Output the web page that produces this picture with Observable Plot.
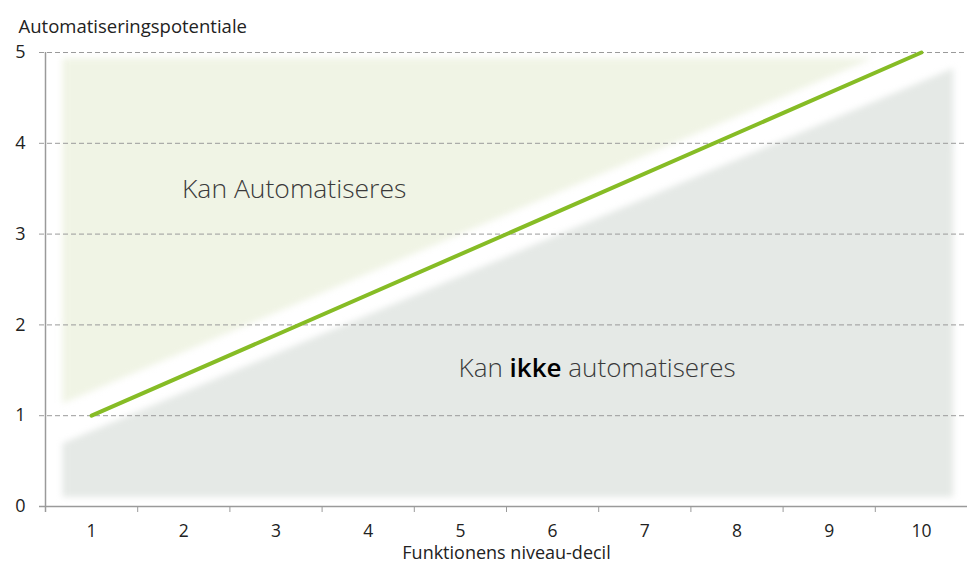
<!DOCTYPE html>
<html>
<head>
<meta charset="utf-8">
<script src="https://cdn.jsdelivr.net/npm/d3@7"></script>
<script src="https://cdn.jsdelivr.net/npm/@observablehq/plot@0.6"></script>
<style>
  html, body { margin: 0; padding: 0; background: #fff; }
  #chart svg { display: block; font-family: "Open Sans", sans-serif; }
</style>
</head>
<body>
<div id="chart"></div>
<script>
// ---- data ----
const deciles = [1, 2, 3, 4, 5, 6, 7, 8, 9, 10];
const minorTicks = [1.5, 2.5, 3.5, 4.5, 5.5, 6.5, 7.5, 8.5, 9.5];
const yTicks = [0, 1, 2, 3, 4, 5];
const gridValues = [1, 2, 3, 4, 5];

const potentialX = [1, 10];
const potentialY = [1, 5];

const greenRegionX = [0.69, 9.48];
const greenLow = [1.13, 4.93];
const greenHigh = [4.93, 4.93];

const grayRegionX = [0.69, 10.35];
const grayLow = [0.1, 0.1];
const grayHigh = [0.69, 4.82];

const yLabel = "Automatiseringspotentiale";
const xLabel = "Funktionens niveau-decil";
const upperText = "Kan Automatiseres";
const lowerText = "Kan ikke automatiseres";

const upperPos = {x: 1.98, y: 3.49};
const lowerPos = {x: 4.98, y: 1.52};

// ---- build tables ----
const line = potentialX.map((x, i) => ({x, y: potentialY[i]}));
const green = greenRegionX.map((x, i) => ({x, y1: greenLow[i], y2: greenHigh[i]}));
const gray = grayRegionX.map((x, i) => ({x, y1: grayLow[i], y2: grayHigh[i]}));

const chart = Plot.plot({
  width: 967,
  height: 565,
  marginTop: 52,
  marginBottom: 59,
  marginLeft: 45,
  marginRight: 0,
  style: {fontFamily: "Open Sans, sans-serif", color: "#222", background: "#fff"},
  x: {domain: [0.5, 10.5], axis: null},
  y: {domain: [0, 5], axis: null},
  marks: [
    Plot.areaY(green, {x: "x", y1: "y1", y2: "y2", fill: "#f0f4e5"}),
    Plot.areaY(gray, {x: "x", y1: "y1", y2: "y2", fill: "#e5e9e6"}),
    Plot.ruleY(gridValues, {stroke: "#9a9a9a", strokeDasharray: "5,3", strokeWidth: 1, insetLeft: -6}),
    Plot.ruleY([0], {stroke: "#9a9a9a", strokeWidth: 1.5, insetLeft: -6}),
    Plot.ruleX([0.5], {stroke: "#9a9a9a", strokeWidth: 1.5, insetBottom: -6}),
    Plot.axisX({ticks: minorTicks, tickSize: 6, stroke: "#9a9a9a", tickFormat: () => "", label: null}),
    Plot.axisX({ticks: deciles, tickSize: 0, tickPadding: 18, fontSize: 17.5, label: null, tickFormat: d => String(d)}),
    Plot.axisY({ticks: yTicks, tickSize: 0, tickPadding: 20, fontSize: 18, label: null, tickFormat: d => String(d)}),
    Plot.line(line, {x: "x", y: "y", stroke: "#86bc25", strokeWidth: 4, strokeLinecap: "round"}),
    Plot.text([upperText], {x: upperPos.x, y: upperPos.y, text: d => d, textAnchor: "start", fontSize: 26.5, fontWeight: 300, fill: "#3a3a3a"}),
    Plot.text([lowerText], {x: lowerPos.x, y: lowerPos.y, text: d => d, textAnchor: "start", fontSize: 26, fontWeight: 300, fill: "#3a3a3a"}),
    Plot.text([yLabel], {frameAnchor: "top-left", dx: -27, dy: -33, text: d => d, textAnchor: "start", fontSize: 18.5, fill: "#222"}),
    Plot.text([xLabel], {frameAnchor: "bottom", dy: 52, text: d => d, textAnchor: "middle", fontSize: 18, fill: "#222"})
  ]
});

// soft edges on the shaded regions
chart.querySelectorAll('g[aria-label="area"] path').forEach(p => p.setAttribute("style", "filter: blur(3px)"));

// bold "ikke"
chart.querySelectorAll("text").forEach(t => {
  if (t.textContent === lowerText) {
    const parts = lowerText.split(" ");
    t.textContent = "";
    parts.forEach((w, i) => {
      const ts = document.createElementNS("http://www.w3.org/2000/svg", "tspan");
      ts.textContent = (i ? " " : "") + w;
      if (w === "ikke") { ts.setAttribute("font-weight", "600"); ts.setAttribute("fill", "#000"); }
      t.appendChild(ts);
    });
  }
});

document.getElementById("chart").appendChild(chart);
</script>
</body>
</html>
